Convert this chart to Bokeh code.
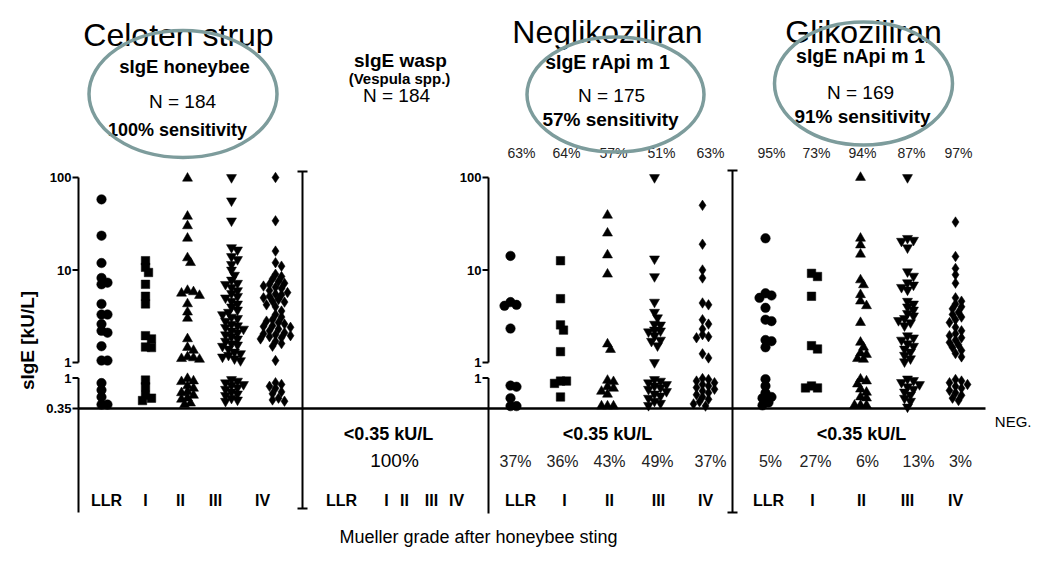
import math
from bokeh.plotting import figure
from bokeh.models import Range1d, LogScale
from bokeh.core.properties import value
from bokeh.embed import file_html
from bokeh.resources import INLINE

# ---------------- data ----------------
grades = ["LLR", "I", "II", "III", "IV"]
markers = ["circle", "square", "triangle", "inverted_triangle", "diamond"]

# sIgE honeybee (kU/L) per Mueller grade
hb_LLR = [58, 23.5, 11.9, 8.2, 7.3, 7.0, 4.3, 3.3, 3.3, 2.6, 2.2, 2.1, 1.5, 1.05, 1.05,
          0.84, 0.66, 0.52, 0.40, 0.40]
hb_I = [12.6, 10.7, 9.4, 7.0, 5.2, 4.3, 1.95, 1.8, 1.47, 1.45, 0.93, 0.74, 0.55, 0.50, 0.46]
hb_II = [98, 38, 30, 22, 13.5, 12, 6.0, 5.8, 5.6, 5.3, 4.3, 3.5, 3.0, 1.8, 1.45, 1.35, 1.15,
         1.12, 1.1, 1.08, 0.98, 0.9, 0.88, 0.76, 0.7, 0.62, 0.6, 0.55, 0.5, 0.48, 0.42, 0.4]
hb_III = [100, 56, 34, 17.5, 16.5, 14, 13, 11.5, 10, 8.8, 7.8, 7.2, 7.0, 6.5, 6.0, 5.6, 5.2,
          5.0, 4.6, 4.3, 4.0, 3.7, 3.5, 3.3, 3.1, 3.0, 2.8, 2.6, 2.5, 2.4, 2.3, 2.2, 2.1, 2.0,
          1.9, 1.8, 1.7, 1.6, 1.55, 1.5, 1.4, 1.3, 1.25, 1.2, 1.15, 1.1, 1.05, 0.95, 0.9, 0.85,
          0.8, 0.78, 0.72, 0.68, 0.62, 0.58, 0.55, 0.5, 0.47, 0.45]
hb_IV = [100, 34, 16, 12, 11, 9.0, 8.5, 8.0, 7.5, 7.2, 7.0, 6.7, 6.5, 6.3, 6.0, 5.7, 5.5, 5.4,
         5.2, 5.0, 4.8, 4.6, 4.5, 4.2, 4.0, 3.6, 3.3, 3.1, 2.9, 2.8, 2.7, 2.6, 2.5, 2.45, 2.4,
         2.3, 2.2, 2.1, 2.05, 2.0, 1.95, 1.9, 1.85, 1.8, 1.7, 1.6, 1.5, 1.05, 0.85, 0.8, 0.75,
         0.7, 0.62, 0.58, 0.5, 0.47, 0.45]

# sIgE rApi m 1 (kU/L)
ra_LLR = [14.2, 4.5, 4.2, 4.1, 2.33, 0.77, 0.74, 0.50, 0.38, 0.38]
ra_I = [12.6, 4.9, 2.55, 2.24, 1.31, 0.9, 0.9, 0.83, 0.52]
ra_II = [39, 25, 14.5, 9.0, 1.58, 1.38, 0.92, 0.88, 0.74, 0.70, 0.63, 0.57, 0.38, 0.38, 0.38]
ra_III = [100, 13.2, 8.5, 4.5, 3.5, 3.05, 2.6, 2.55, 2.25, 2.2, 2.15, 1.95, 1.75, 1.7, 1.52,
          1.0, 0.95, 0.9, 0.85, 0.8, 0.76, 0.72, 0.68, 0.63, 0.58, 0.54, 0.5, 0.45, 0.42, 0.39]
ra_IV = [50, 19, 10, 8.2, 4.4, 4.2, 2.9, 2.6, 2.3, 2.0, 1.9, 1.85, 1.24, 1.12, 0.98, 0.95,
         0.9, 0.85, 0.8, 0.76, 0.72, 0.68, 0.64, 0.6, 0.56, 0.52, 0.48, 0.44, 0.41, 0.38]

# sIgE nApi m 1 (kU/L)
na_LLR = [22, 5.6, 5.3, 5.0, 3.9, 2.9, 2.8, 1.75, 1.7, 1.46, 0.96, 0.76, 0.6, 0.52, 0.5,
          0.43, 0.39]
na_I = [9.2, 8.5, 5.2, 1.52, 1.4, 0.76, 0.71, 0.71]
na_II = [100, 22, 18.6, 14.8, 7.8, 6.9, 5.4, 4.6, 4.1, 2.7, 1.65, 1.46, 1.26, 1.22, 1.1, 1.08,
         0.96, 0.9, 0.81, 0.68, 0.61, 0.52, 0.5, 0.39, 0.39, 0.39]
na_III = [100, 22, 21, 20.5, 17.4, 9.6, 8.6, 7.3, 6.9, 6.5, 6.1, 4.6, 4.3, 4.0, 3.7, 3.4, 3.2,
          3.0, 2.85, 2.7, 2.5, 1.95, 1.85, 1.75, 1.6, 1.5, 1.4, 1.3, 1.2, 1.1, 1.02, 0.97,
          0.92, 0.86, 0.8, 0.74, 0.68, 0.62, 0.56, 0.5, 0.45, 0.37]
na_IV = [33, 14, 10.4, 8.9, 7.2, 5.0, 4.6, 4.3, 4.0, 3.8, 3.5, 3.3, 3.1, 2.9, 2.7, 2.4, 2.2,
         2.05, 1.95, 1.85, 1.75, 1.65, 1.55, 1.45, 1.35, 1.25, 1.15, 0.95, 0.9, 0.85, 0.8,
         0.75, 0.7, 0.65, 0.6, 0.55, 0.5, 0.46]

ra_pos_pct = ["63%", "64%", "57%", "51%", "63%"]
ra_neg_pct = ["37%", "36%", "43%", "49%", "37%"]
na_pos_pct = ["95%", "73%", "94%", "87%", "97%"]
na_neg_pct = ["5%", "27%", "6%", "13%", "3%"]

hi_ticks = [1, 10, 100]
hi_tick_labels = ["1", "10", "100"]
lo_ticks = [0.35, 1]
lo_tick_labels = ["0.35", "1"]
threshold = 0.35

# ---------------- layout (picture pixel coordinates) ----------------
W, H = 1035, 547
HI_1, HI_100 = 362.0, 177.0
LO_1, LO_035 = 377.5, 408.0
HI_PPD = (HI_1 - HI_100) / 2.0
LO_PPD = (LO_035 - LO_1) / (-math.log10(0.35))


def hi_val(Y):
    return 10 ** ((HI_1 - Y) / HI_PPD)


def lo_val(Y):
    return 10 ** ((LO_1 - Y) / LO_PPD)


def ypix(v):
    if v >= 1:
        return HI_1 - HI_PPD * math.log10(v)
    return LO_1 - LO_PPD * math.log10(v)


p = figure(width=W, height=H, title=None, toolbar_location=None, output_backend="svg",
           x_range=Range1d(0, W), y_range=Range1d(H, 0),
           x_axis_location=None, y_axis_location=None, min_border=0)
p.xgrid.visible = False
p.ygrid.visible = False
p.outline_line_color = None
p.background_fill_color = "white"
p.border_fill_color = "white"
p.extra_y_ranges = {"hi": Range1d(hi_val(H), hi_val(0)),
                    "lo": Range1d(lo_val(H), lo_val(0))}
p.extra_y_scales = {"hi": LogScale(), "lo": LogScale()}

FONT = value("Liberation Sans")


def txt(x, y, s, size, bold=False, align="center", color="black", angle=0):
    p.text(x=[x], y=[y], text=[s], text_font=FONT, text_font_size=value(size),
           text_font_style="bold" if bold else "normal", text_align=align,
           text_baseline="middle", text_color=color, angle=angle)


# ---- beeswarm placement ----
def swarm(vals, center, mind=5.6, step=3.0):
    order = sorted(range(len(vals)), key=lambda i: -vals[i])
    placed = []
    xs = [0.0] * len(vals)
    for i in order:
        yp = ypix(vals[i])
        chosen = None
        for k in range(0, 40):
            cands = [0.0] if k == 0 else [k * step, -k * step]
            for dx in cands:
                if all((dx - px) ** 2 + (yp - py) ** 2 >= mind ** 2 for px, py in placed):
                    chosen = dx
                    break
            if chosen is not None:
                break
        placed.append((chosen, yp))
        xs[i] = center + chosen
    return xs


sizes = {"circle": 9.5, "square": 8.5, "triangle": 10, "inverted_triangle": 10, "diamond": 10.5}

panels = [
    ([hb_LLR, hb_I, hb_II, hb_III, hb_IV], [101, 145, 187, 231, 275]),
    ([ra_LLR, ra_I, ra_II, ra_III, ra_IV], [510, 560, 607, 654, 702]),
    ([na_LLR, na_I, na_II, na_III, na_IV], [765, 811, 860, 907, 955]),
]

# ---- axes / lines ----
AX = dict(line_color="black", line_width=2)
TK = dict(text_font=FONT, text_font_size=value("13px"), text_font_style="bold",
          text_align="right", text_baseline="middle")
# honeybee y-axis
p.segment(x0=[78], y0=[100], x1=[78], y1=[1], y_range_name="hi", **AX)
p.segment(x0=[78], y0=[1], x1=[78], y1=[threshold], y_range_name="lo", **AX)
p.segment(x0=[78], y0=[LO_035], x1=[78], y1=[512], **AX)
p.segment(x0=[72] * 3, y0=hi_ticks, x1=[78] * 3, y1=hi_ticks, y_range_name="hi", **AX)
p.segment(x0=[72] * 2, y0=lo_ticks, x1=[78] * 2, y1=lo_ticks, y_range_name="lo", **AX)
p.text(x=[71] * 3, y=hi_ticks, text=hi_tick_labels, y_range_name="hi", **TK)
p.text(x=[71] * 2, y=lo_ticks, text=lo_tick_labels, y_range_name="lo", **TK)
# rApi m 1 y-axis
p.segment(x0=[488], y0=[100], x1=[488], y1=[1], y_range_name="hi", **AX)
p.segment(x0=[488], y0=[1], x1=[488], y1=[threshold], y_range_name="lo", **AX)
p.segment(x0=[488], y0=[LO_035], x1=[488], y1=[513], **AX)
p.segment(x0=[482] * 3, y0=hi_ticks, x1=[488] * 3, y1=hi_ticks, y_range_name="hi", **AX)
p.segment(x0=[482], y0=[1], x1=[488], y1=[1], y_range_name="lo", **AX)
p.text(x=[481] * 3, y=hi_ticks, text=hi_tick_labels, y_range_name="hi", **TK)
p.text(x=[481], y=[1], text=["1"], y_range_name="lo", **TK)
# separators with caps
for xs_, yt, yb in [(302, 171, 508), (732, 170, 512)]:
    p.segment(x0=[xs_], y0=[yt], x1=[xs_], y1=[yb], **AX)
    p.segment(x0=[xs_ - 5, xs_ - 5], y0=[yt, yb], x1=[xs_ + 5, xs_ + 5], y1=[yt, yb], **AX)
# threshold baseline
p.segment(x0=[78], y0=[threshold], x1=[985], y1=[threshold], y_range_name="lo",
          line_color="black", line_width=2.5)

# ---- data points ----
for groups, centers in panels:
    for vals, cx, mk in zip(groups, centers, markers):
        xs = swarm(vals, cx)
        hx = [x for x, v in zip(xs, vals) if v >= 1]
        hv = [v for v in vals if v >= 1]
        lx = [x for x, v in zip(xs, vals) if v < 1]
        lv = [v for v in vals if v < 1]
        if hv:
            p.scatter(x=hx, y=hv, marker=mk, size=sizes[mk], fill_color="black",
                      line_color="black", line_width=0.5, y_range_name="hi")
        if lv:
            p.scatter(x=lx, y=lv, marker=mk, size=sizes[mk], fill_color="black",
                      line_color="black", line_width=0.5, y_range_name="lo")

# ---- titles & annotations (y = visual middle) ----
txt(178, 34, "Celoten strup", "32px")
txt(607, 31, "Neglikoziliran", "32px")
txt(863, 31, "Glikoziliran", "32px")

txt(184, 66, "sIgE honeybee", "18.5px", bold=True)
txt(182, 101, "N = 184", "19px")
txt(177, 129, "100% sensitivity", "18px", bold=True)

txt(400, 60, "sIgE wasp", "19px", bold=True)
txt(399, 78, "(Vespula spp.)", "15px", bold=True)
txt(396, 95, "N = 184", "19px")

txt(607, 61, "sIgE rApi m 1", "19.5px", bold=True)
txt(611, 95, "N = 175", "19px")
txt(610, 119, "57% sensitivity", "19px", bold=True)

txt(860, 55, "sIgE nApi m 1", "19.5px", bold=True)
txt(860, 92, "N = 169", "19px")
txt(862, 116, "91% sensitivity", "19px", bold=True)

for s, x in zip(ra_pos_pct, [521, 566, 613, 661, 710]):
    txt(x, 152, s, "14px", color="#222222")
for s, x in zip(na_pos_pct, [771, 816, 862, 911, 958]):
    txt(x, 152, s, "14px", color="#222222")

txt(388, 433, "<0.35 kU/L", "18px", bold=True)
txt(607, 433, "<0.35 kU/L", "18px", bold=True)
txt(861, 433, "<0.35 kU/L", "18px", bold=True)
txt(394, 460, "100%", "19px")
for s, x in zip(ra_neg_pct, [515, 562, 609, 657, 710]):
    txt(x, 461, s, "16px", color="#222222")
for s, x in zip(na_neg_pct, [770, 815, 867, 918, 960]):
    txt(x, 461, s, "16px", color="#222222")
txt(1031, 421, "NEG.", "15px", align="right")

label_x = [[106, 145, 180, 215, 262], [341, 386, 404, 431, 456],
           [520, 564, 609, 658, 705], [768, 812, 861, 907, 955]]
for row in label_x:
    for g, x in zip(grades, row):
        txt(x, 500, g, "16px", bold=True)

txt(478, 536, "Mueller grade after honeybee sting", "18px")
txt(27, 340, "sIgE [kU/L]", "19px", bold=True, angle=math.pi / 2)

# ---- ellipses (drawn on top) ----
p.ellipse(x=[182.5, 615, 863], y=[93.5, 94, 83], width=[188, 177, 178], height=[127, 115, 123],
          fill_color=None, line_color="#7d9c9c", line_width=3.5)

open("out.html", "w").write(file_html(p, INLINE))
